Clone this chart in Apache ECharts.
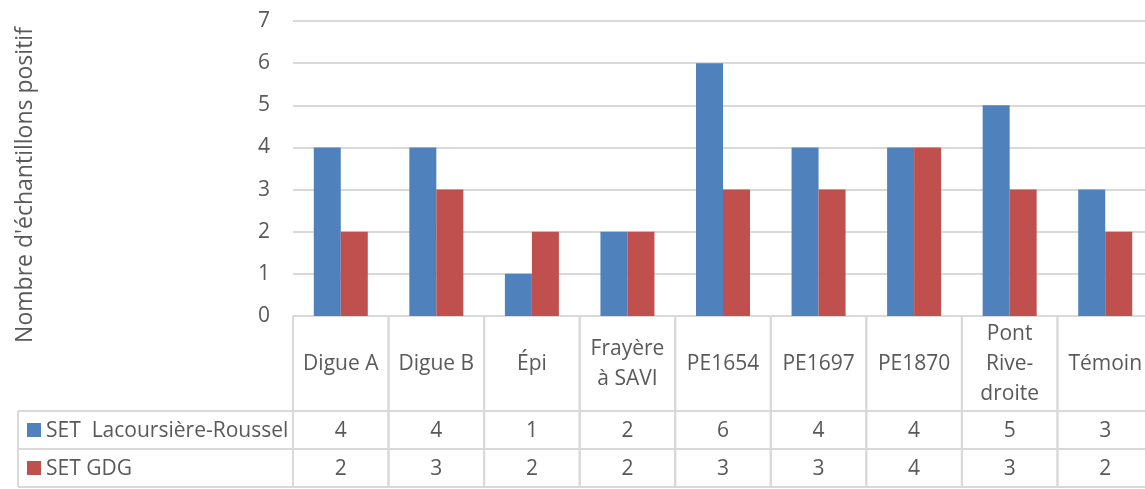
<!DOCTYPE html>
<html>
<head>
<meta charset="utf-8">
<script src="https://cdn.jsdelivr.net/npm/echarts@6/dist/echarts.min.js"></script>
<style>
  html, body { margin: 0; padding: 0; background: #fff; }
  #chart { width: 1145px; height: 489px; }
</style>
</head>
<body>
<div id="chart"></div>
<script>
// Sites sampled (line breaks follow the table's column wrapping)
const categories = ['Digue A', 'Digue B', 'Épi', 'Frayère\nà SAVI', 'PE1654', 'PE1697', 'PE1870', 'Pont\nRive-\ndroite', 'Témoin'];
const seriesNames = ['SET  Lacoursière-Roussel', 'SET GDG'];
const lacoursiere = [4, 4, 1, 2, 6, 4, 4, 5, 3];
const gdg = [2, 3, 2, 2, 3, 3, 4, 3, 2];
const yTicks = [0, 1, 2, 3, 4, 5, 6, 7];
const yTitle = "Nombre d'échantillons positif";

const COLORS = ['#4f81bd', '#c0504d'];
const TEXT = '#595959';
const LINE = '#d9d9d9';
const FONT = '"Open Sans", "Liberation Sans", sans-serif';
const FS = 21;

// Data table geometry below the plot
const HEADER_H = 95;   // category-name row
const ROW_H = 38;      // one row per series
const TABLE_LEFT = 18;

const chart = echarts.init(document.getElementById('chart'), null, { renderer: 'canvas' });

function tableCell(params, api) {
  const i = api.value(0);
  const base = api.coord([i, 0]);
  const bw = api.size([1, 0])[0];
  const cx = base[0];
  const y0 = base[1];
  const xl = cx - bw / 2;
  const xr = cx + bw / 2;
  const total = HEADER_H + ROW_H * 2;
  const lineStyle = { stroke: LINE, lineWidth: 2 };
  const children = [
    { type: 'line', shape: { x1: xl, y1: y0, x2: xl, y2: y0 + total }, style: lineStyle },
    { type: 'line', shape: { x1: xr, y1: y0, x2: xr, y2: y0 + total }, style: lineStyle },
    { type: 'text', style: {
        text: categories[i], x: cx, y: y0 + HEADER_H / 2 + 1,
        align: 'center', verticalAlign: 'middle', lineHeight: 30,
        fill: TEXT, font: FS + 'px ' + FONT } }
  ];
  [api.value(1), api.value(2)].forEach((v, r) => {
    children.push({ type: 'text', style: {
      text: String(v), x: cx, y: y0 + HEADER_H + ROW_H * r + ROW_H / 2 + 1,
      align: 'center', verticalAlign: 'middle',
      fill: TEXT, font: FS + 'px ' + FONT } });
  });
  return { type: 'group', children };
}

const option = {
  animation: false,
  backgroundColor: '#fff',
  textStyle: { fontFamily: FONT },
  grid: { left: 293, top: 21, width: 860, height: 295, outerBoundsMode: 'none' },
  xAxis: {
    type: 'category',
    data: categories,
    axisLine: { lineStyle: { color: LINE, width: 2 } },
    axisTick: { show: false },
    axisLabel: { show: false },
    splitLine: { show: false }
  },
  yAxis: {
    type: 'value',
    min: yTicks[0],
    max: yTicks[yTicks.length - 1],
    interval: 1,
    axisLine: { show: false },
    axisTick: { show: false },
    axisLabel: { color: TEXT, fontSize: FS, margin: 23, fontFamily: FONT },
    splitLine: { lineStyle: { color: LINE, width: 2 } }
  },
  series: [
    { name: seriesNames[0], type: 'bar', data: lacoursiere, barWidth: 27, barGap: '0%',
      itemStyle: { color: COLORS[0] } },
    { name: seriesNames[1], type: 'bar', data: gdg, barWidth: 27, barGap: '0%',
      itemStyle: { color: COLORS[1] } },
    { type: 'custom', clip: false, silent: true, z: 1,
      data: categories.map((c, i) => [i, lacoursiere[i], gdg[i]]),
      encode: { x: 0, y: 1 },
      renderItem: tableCell }
  ]
};
chart.setOption(option);

// Left column of the data table (series keys and names), rules, and the value-axis title
const plotLeft = 293;
const axisY = 316;
const rowTop = axisY + HEADER_H;
const g = [];
[0, 1, 2].forEach(r => {
  g.push({ type: 'line', shape: { x1: TABLE_LEFT, y1: rowTop + r * ROW_H, x2: 1145, y2: rowTop + r * ROW_H },
    style: { stroke: LINE, lineWidth: 2 } });
});
g.push({ type: 'line', shape: { x1: TABLE_LEFT, y1: rowTop, x2: TABLE_LEFT, y2: rowTop + 2 * ROW_H },
  style: { stroke: LINE, lineWidth: 2 } });
g.push({ type: 'line', shape: { x1: plotLeft, y1: axisY, x2: plotLeft, y2: rowTop + 2 * ROW_H },
  style: { stroke: LINE, lineWidth: 2 } });
seriesNames.forEach((name, r) => {
  const cy = rowTop + r * ROW_H + ROW_H / 2;
  g.push({ type: 'rect', shape: { x: 27, y: cy - 7, width: 14, height: 14 }, style: { fill: COLORS[r] } });
  g.push({ type: 'text', style: { text: name, x: 46, y: cy + 1, verticalAlign: 'middle',
    fill: TEXT, font: FS + 'px ' + FONT } });
});
g.push({ type: 'text', x: 25, y: 185, rotation: Math.PI / 2,
  style: { text: yTitle, align: 'center', verticalAlign: 'middle',
    fill: TEXT, font: '23px ' + FONT } });
chart.setOption({ graphic: g });
</script>
</body>
</html>
